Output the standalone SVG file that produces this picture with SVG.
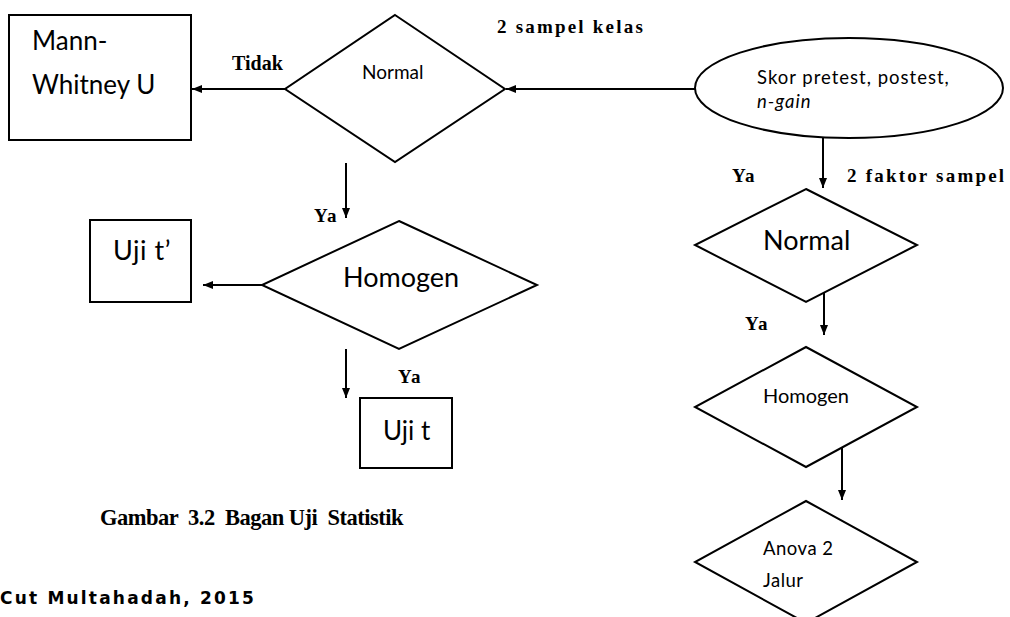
<svg xmlns="http://www.w3.org/2000/svg" width="1010" height="617" viewBox="0 0 1010 617">
<style>
.shape{fill:#fff;stroke:#000;stroke-width:2}
.conn{stroke:#000;stroke-width:2;fill:none;marker-end:url(#ah)}
.s{font-family:Lato,"Liberation Sans",sans-serif;fill:#000}
.b{font-family:"Liberation Serif","Times New Roman",serif;font-weight:bold;fill:#000}
</style>
<defs>
<marker id="ah" markerUnits="userSpaceOnUse" markerWidth="10" markerHeight="10" viewBox="0 0 10 10" refX="10" refY="5" orient="auto">
<path d="M0,1 L10,5 L0,9 Z" fill="#000"/>
</marker>
</defs>
<rect width="1010" height="617" fill="#fff"/>
<g id="connectors">
<line class="conn" x1="285" y1="89" x2="192" y2="89"/>
<line class="conn" x1="695" y1="89" x2="506" y2="89"/>
<line class="conn" x1="346" y1="163" x2="346" y2="218"/>
<line class="conn" x1="262" y1="285" x2="203" y2="285"/>
<line class="conn" x1="346" y1="349" x2="346" y2="398"/>
<line class="conn" x1="823" y1="138" x2="823" y2="188"/>
<line class="conn" x1="824" y1="292" x2="824" y2="335"/>
<line class="conn" x1="842" y1="443" x2="842" y2="500"/>
</g>
<g id="mann">
<rect class="shape" x="9" y="15" width="182" height="125"/>
<text class="s" x="32" y="50" font-size="26">Mann-</text>
<text class="s" x="32" y="94" font-size="26">Whitney U</text>
</g>
<g id="normal1">
<polygon class="shape" points="395,15 505,89 395,162 285,89"/>
<text class="s" x="362" y="79" font-size="19">Normal</text>
</g>
<g id="data">
<ellipse class="shape" cx="849" cy="88" rx="154" ry="50"/>
<text class="s" x="757" y="84" font-size="18.5" letter-spacing="1">Skor pretest, postest,</text>
<text class="s" x="757" y="108" font-size="18.5" letter-spacing="1" font-style="italic">n-gain</text>
</g>
<g id="homogen1">
<polygon class="shape" points="399,221 537,285 399,349 262,285"/>
<text class="s" x="343" y="287" font-size="27">Homogen</text>
</g>
<g id="ujitp">
<rect class="shape" x="90" y="220" width="101" height="82"/>
<text class="s" x="113" y="260" font-size="27" letter-spacing="0.5">Uji t’</text>
</g>
<g id="ujit">
<rect class="shape" x="360" y="398" width="92" height="70"/>
<text class="s" x="383" y="440" font-size="26">Uji t</text>
</g>
<g id="normal2">
<polygon class="shape" points="806,189 917,245 806,302 695,245"/>
<text class="s" x="763" y="250" font-size="27">Normal</text>
</g>
<g id="homogen2">
<polygon class="shape" points="806,347 917,407 806,467 695,407"/>
<text class="s" x="763" y="403" font-size="20">Homogen</text>
</g>
<g id="anova">
<polygon class="shape" points="806,501 917,562 806,623 695,562"/>
<text class="s" x="763" y="555" font-size="18.5" letter-spacing="0.5">Anova 2</text>
<text class="s" x="763" y="587" font-size="18.5" letter-spacing="0.5">Jalur</text>
</g>
<g id="labels">
<text class="b" x="232" y="70" font-size="20">Tidak</text>
<text class="b" x="497" y="33" font-size="19" letter-spacing="2.2">2 sampel kelas</text>
<text class="b" x="732" y="182" font-size="19" letter-spacing="1.5">Ya</text>
<text class="b" x="847" y="182" font-size="19" letter-spacing="2.2">2 faktor sampel</text>
<text class="b" x="745" y="330" font-size="19" letter-spacing="1.5">Ya</text>
<text class="b" x="314" y="222" font-size="19" letter-spacing="1.5">Ya</text>
<text class="b" x="398" y="383" font-size="19" letter-spacing="1.5">Ya</text>
<text class="b" x="100" y="525" font-size="22.5" letter-spacing="-0.5" xml:space="preserve">Gambar  3.2  Bagan Uji  Statistik</text>
<text x="0" y="604" font-family="'DejaVu Sans',sans-serif" font-weight="bold" font-size="17" letter-spacing="2.2" fill="#000">Cut Multahadah, 2015</text>
</g>
</svg>
